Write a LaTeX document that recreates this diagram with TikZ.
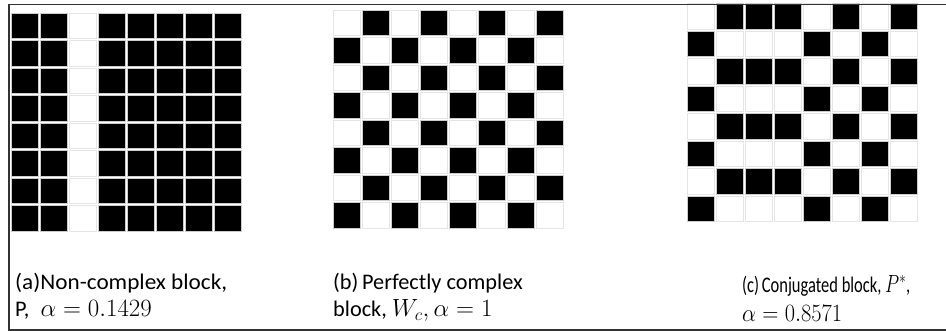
\documentclass[tikz,border=0pt]{standalone}
\usepackage{fontspec}
\usepackage{graphicx}
\setmainfont{Carlito}
\newcommand\gcell[5]{\path[#5] ({#1+#4*29+1},{#2+#3*27.5+1}) rectangle ({#1+#4*29+28},{#2+#3*27.5+26.5});}
\newcommand\mth[1]{{\fontsize{25}{28}\selectfont$#1$}}
\begin{document}
\begin{tikzpicture}[x=1pt,y=-1pt,
  blk/.style={fill=black,draw=gray!40,line width=0.8pt},
  wht/.style={fill=white,draw=gray!20,line width=0.8pt},
  frame/.style={draw=black!80,line width=1.6pt},
  captxt/.style={anchor=base west,inner sep=0pt,font=\fontsize{22.3}{26}\selectfont}]
\useasboundingbox (0,0) rectangle (946,331);
\fill[white] (0,0) rectangle (946,331);
% (a) non-complex block
\foreach \r in {0,...,7}{
  \foreach \c in {0,1,3,4,5,6,7}{\gcell{10}{12.3}{\r}{\c}{blk}}
  \gcell{10}{12.3}{\r}{2}{wht}
}
% (b) perfectly complex block
\foreach \r in {0,...,7}{
  \foreach \c in {0,...,7}{
    \pgfmathtruncatemacro\k{mod(\r+\c,2)}
    \ifnum\k=1 \gcell{332}{9}{\r}{\c}{blk}\else\gcell{332}{9}{\r}{\c}{wht}\fi
  }
}
% (c) conjugated block
\foreach \r in {0,2,4,6}{
  \foreach \c in {1,2,3,5,7}{\gcell{686}{2.5}{\r}{\c}{blk}}
  \foreach \c in {0,4,6}{\gcell{686}{2.5}{\r}{\c}{wht}}
}
\foreach \r in {1,3,5,7}{
  \foreach \c in {0,4,6}{\gcell{686}{2.5}{\r}{\c}{blk}}
  \foreach \c in {1,2,3,5,7}{\gcell{686}{2.5}{\r}{\c}{wht}}
}
% frame
\draw[frame] (951,4.5) -- (9,4.5) -- (9,330) -- (951,330);
% captions
\node[captxt] (a1) at (15,290) {\resizebox{212pt}{\height}{(a)Non-complex block,}};
\node[captxt] (a2) at (15,317) {P,\hspace{6pt} \mth{\alpha = 0.1429}};
\node[captxt] (b1) at (333,290) {(b)\,Perfectly complex};
\node[captxt] (b2) at (333,317) {block, \mth{W_c,\alpha = 1}};
\node[captxt] (c1) at (742,293) {\resizebox{168pt}{\height}{(c)\,Conjugated block, \mth{P^*},}};
\node[captxt] (c2) at (742,321) {\resizebox{100pt}{\height}{\mth{\alpha = 0.8571}}};
\end{tikzpicture}
\end{document}
